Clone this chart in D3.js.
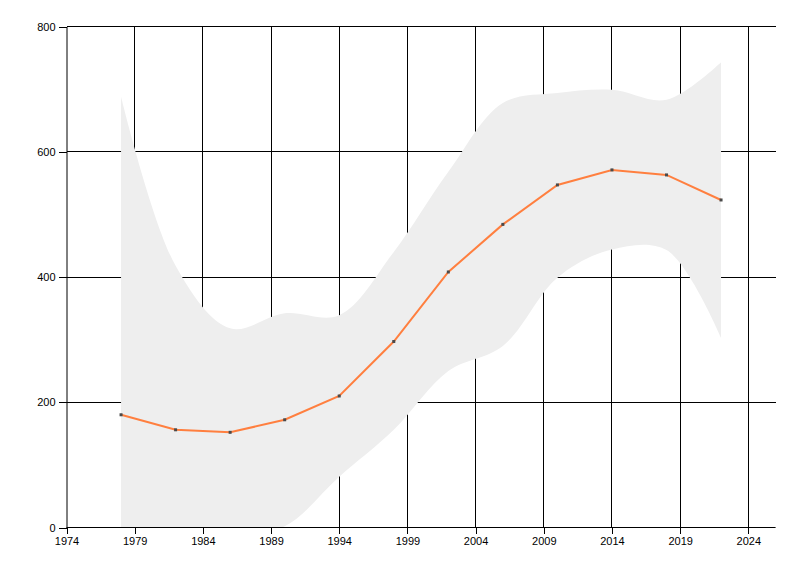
<!DOCTYPE html>
<html>
<head>
<meta charset="utf-8">
<script src="https://cdn.jsdelivr.net/npm/d3@7"></script>
<style>
  html, body { margin: 0; padding: 0; background: #fff; }
  svg text { font-family: "Liberation Sans", Arial, sans-serif; font-size: 11px; fill: #000; }
</style>
</head>
<body>
<svg id="chart" width="800" height="576"></svg>
<script>
// ---- data ----
const years = [1978, 1982, 1986, 1990, 1994, 1998, 2002, 2006, 2010, 2014, 2018, 2022];
const meanValues = [180, 156, 152, 172, 210, 297, 408, 484, 547, 571, 563, 523];
const upperValues = [688, 418, 318, 342, 339, 440, 568, 678, 694, 699, 683, 743];
const lowerValues = [-328, -106, -13, 2, 81, 156, 250, 290, 399, 444, 443, 303];
const xTickValues = [1974, 1979, 1984, 1989, 1994, 1999, 2004, 2009, 2014, 2019, 2024];
const yTickValues = [0, 200, 400, 600, 800];

(function () {
// ---- layout ----
const svg = d3.select("#chart");
const pLeft = 66.5, pRight = 775.6, pTop = 26.5, pBottom = 527.5;

const x = d3.scaleLinear().domain([1974, 2026]).range([pLeft, pRight]);
const y = d3.scaleLinear().domain([0, 800]).range([pBottom, pTop]);
const px = v => Math.round(v - 0.5) + 0.5;

svg.append("defs").append("clipPath").attr("id", "plotclip")
  .append("rect").attr("x", pLeft).attr("y", pTop).attr("width", pRight - pLeft).attr("height", pBottom - pTop);

// gridlines
const grid = svg.append("g").attr("stroke", "#000").attr("stroke-width", 1).attr("shape-rendering", "crispEdges");
grid.selectAll("line.v").data(xTickValues.slice(1)).join("line")
  .attr("x1", d => px(x(d))).attr("x2", d => px(x(d)))
  .attr("y1", pTop).attr("y2", pBottom);
grid.selectAll("line.h").data(yTickValues.slice(1)).join("line")
  .attr("x1", pLeft).attr("x2", pRight)
  .attr("y1", d => px(y(d))).attr("y2", d => px(y(d)));

// band
const band = d3.area()
  .x((d, i) => x(years[i]))
  .y0((d, i) => y(lowerValues[i]))
  .y1((d, i) => y(upperValues[i]))
  .curve(d3.curveCatmullRom.alpha(0.5));
svg.append("path")
  .attr("clip-path", "url(#plotclip)")
  .attr("d", band(years))
  .attr("fill", "#eeeeee");

// axes
const xAxis = d3.axisBottom(x).tickValues(xTickValues).tickFormat(d3.format("d")).tickSize(6).tickSizeOuter(0);
const gx = svg.append("g").attr("transform", `translate(0,${px(pBottom)})`).call(xAxis);
gx.attr("font-family", null).attr("font-size", null);
gx.select(".domain").attr("stroke", "#000").attr("d", `M${pLeft},0H${pRight}`);
gx.selectAll(".tick line").attr("stroke", "#000").attr("shape-rendering", "crispEdges");
gx.selectAll(".tick text").attr("y", 9.5).attr("dy", "0.71em");

const yAxis = d3.axisLeft(y).tickValues(yTickValues).tickFormat(d3.format("d")).tickSize(8).tickSizeOuter(0);
const gy = svg.append("g").attr("transform", `translate(${px(pLeft)},0)`).call(yAxis);
gy.attr("font-family", null).attr("font-size", null);
gy.select(".domain").attr("stroke", "#000");
gy.selectAll(".tick line").attr("stroke", "#000").attr("shape-rendering", "crispEdges");
gy.selectAll(".tick text").attr("x", -11);

// line
const line = d3.line().x((d, i) => x(years[i])).y((d, i) => y(meanValues[i]));
svg.append("path")
  .attr("d", line(years))
  .attr("fill", "none")
  .attr("stroke", "#ff7f3f")
  .attr("stroke-width", 2);

// markers
svg.append("g").selectAll("rect").data(years).join("rect")
  .attr("x", (d, i) => x(d) - 1.5)
  .attr("y", (d, i) => y(meanValues[i]) - 1.5)
  .attr("width", 3).attr("height", 3)
  .attr("fill", "#4a4a4a");
})();
</script>
</body>
</html>
